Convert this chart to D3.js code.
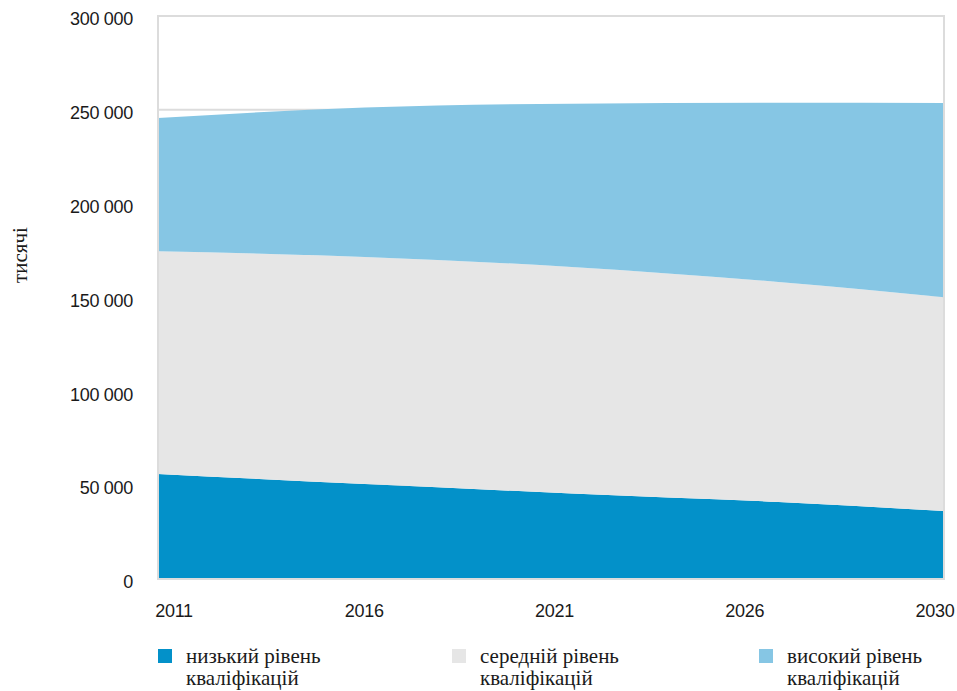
<!DOCTYPE html>
<html>
<head>
<meta charset="utf-8">
<script src="https://cdn.jsdelivr.net/npm/d3@7"></script>
<style>
  body { margin: 0; background: #fff; }
  .tick-label { font-family: "Liberation Sans", Arial, sans-serif; font-size: 18px; fill: #1a1a1a; letter-spacing: -0.3px; }
  .serif { font-family: "Liberation Serif", "Times New Roman", serif; font-size: 21px; fill: #1a1a1a; }
</style>
</head>
<body>
<svg></svg>
<script>
let width = 957;
let height = 691;

// data (thousands of people per level)
let years = [2011, 2016, 2021, 2026, 2030];
let lowSkill = [55900, 50600, 45600, 41000, 36200];
let midSkill = [118700, 121000, 120700, 117300, 114000];
let highSkill = [71000, 79600, 87000, 95500, 103400];

let seriesKeys = ['low', 'mid', 'high'];
let seriesNames = [
  ['низький рівень', 'кваліфікацій'],
  ['середній рівень', 'кваліфікацій'],
  ['високий рівень', 'кваліфікацій']
];
let seriesColors = ['#0391c9', '#e6e6e6', '#86c6e4'];

let yTicks = [0, 50000, 100000, 150000, 200000, 250000, 300000];
let xTickLabels = ['2011', '2016', '2021', '2026', '2030'];

// plot box (window.top is taken, so prefix these)
let plotLeft = 158, plotRight = 944, plotTop = 16, plotBottom = 579;

let tableData = years.map((y, i) => ({year: y, low: lowSkill[i], mid: midSkill[i], high: highSkill[i]}));

let svg = d3.select('svg')
  .attr('width', width)
  .attr('height', height);

let x = d3.scaleLinear()
  .domain(d3.extent(years))
  .range([plotLeft, plotRight]);

let y = d3.scaleLinear()
  .domain([0, 300000])
  .range([plotBottom, plotTop]);

// labels under the axis are spread evenly in the original, not by year
let xLabelPos = d3.scalePoint()
  .domain(xTickLabels)
  .range([174, 935]);

// gridlines
svg.append('g')
  .selectAll('line')
  .data(yTicks)
  .enter()
  .append('line')
    .attr('x1', plotLeft)
    .attr('x2', plotRight)
    .attr('y1', d => y(d))
    .attr('y2', d => y(d))
    .attr('stroke', '#dcdcdc')
    .attr('stroke-width', 2);

let stacked = d3.stack().keys(seriesKeys)(tableData);

let area = d3.area()
  .x(d => x(d.data.year))
  .y0(d => y(d[0]))
  .y1(d => y(d[1]))
  .curve(d3.curveMonotoneX);

svg.append('g')
  .selectAll('path')
  .data(stacked)
  .enter()
  .append('path')
    .attr('fill', (d, i) => seriesColors[i])
    .attr('d', area);

// frame
svg.append('rect')
  .attr('x', plotLeft)
  .attr('y', plotTop)
  .attr('width', plotRight - plotLeft)
  .attr('height', plotBottom - plotTop)
  .attr('fill', 'none')
  .attr('stroke', '#dcdcdc')
  .attr('stroke-width', 2);

// y tick labels
let fmt = v => d3.format(',')(v).replace(/,/g, ' ');
svg.append('g')
  .selectAll('text')
  .data(yTicks)
  .enter()
  .append('text')
    .classed('tick-label', true)
    .attr('x', 133)
    .attr('y', d => y(d) + 3)
    .attr('dy', '0.35em')
    .attr('text-anchor', 'end')
    .text(d => fmt(d));

// x tick labels
svg.append('g')
  .selectAll('text')
  .data(xTickLabels)
  .enter()
  .append('text')
    .classed('tick-label', true)
    .attr('x', d => xLabelPos(d))
    .attr('y', 617)
    .attr('text-anchor', 'middle')
    .text(d => d);

// y axis title
svg.append('text')
  .classed('serif', true)
  .attr('transform', 'translate(27, 255) rotate(-90)')
  .attr('text-anchor', 'middle')
  .text('тисячі');

// legend
let legendX = [158, 452, 759];
let legend = svg.append('g')
  .selectAll('g')
  .data(seriesNames)
  .enter()
  .append('g')
    .attr('transform', (d, i) => `translate(${legendX[i]}, 649)`);

legend.append('rect')
  .attr('width', 14)
  .attr('height', 14)
  .attr('fill', (d, i) => seriesColors[i]);

legend.append('text')
  .classed('serif', true)
  .attr('x', 28)
  .attr('y', 14)
  .selectAll('tspan')
  .data(d => d)
  .enter()
  .append('tspan')
    .attr('x', 28)
    .attr('dy', (d, i) => i === 0 ? 0 : 22)
    .text(d => d);
</script>
</body>
</html>
